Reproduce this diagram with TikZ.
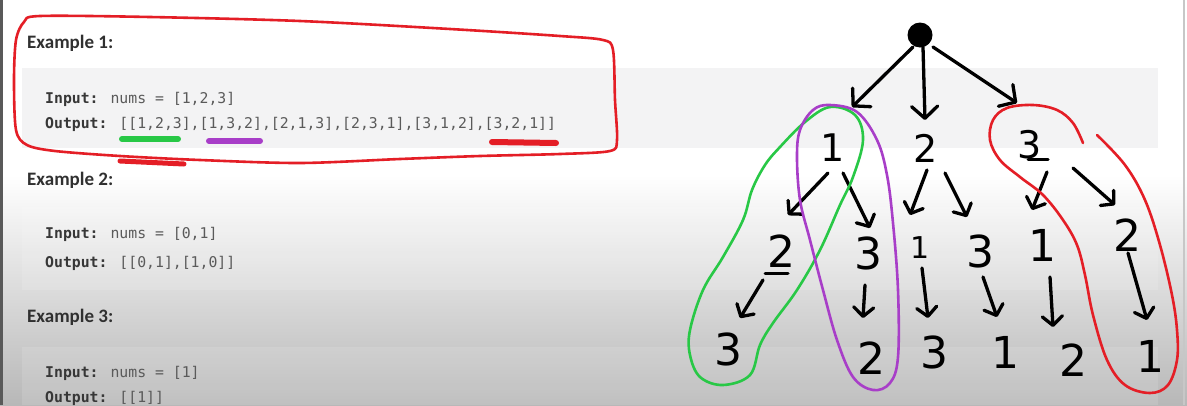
\documentclass[tikz,border=0pt]{standalone}
\usepackage{fontspec}
\usetikzlibrary{arrows.meta,calc}
\newfontfamily\headfont{Carlito}
\newfontfamily\codefont{DejaVu Sans Mono}
\newfontfamily\handfont{DejaVu Sans}
\definecolor{penred}{RGB}{228,30,38}
\definecolor{pengreen}{RGB}{40,200,70}
\definecolor{penpurple}{RGB}{168,62,200}
\definecolor{headgray}{RGB}{48,48,48}
\definecolor{codegray}{RGB}{90,90,90}
\definecolor{codebold}{RGB}{55,55,55}
\definecolor{blockgray}{RGB}{243,243,244}
\tikzset{
  head/.style={anchor=base west, inner sep=0pt, font=\headfont\bfseries\fontsize{19}{19}\selectfont, text=headgray},
  code/.style={anchor=base west, inner sep=0pt, font=\codefont\fontsize{14.8}{15}\selectfont, text=codegray},
  digL/.style={inner sep=0pt, font=\handfont\fontsize{38}{38}\selectfont},
  dig/.style={inner sep=0pt, font=\handfont\fontsize{44}{44}\selectfont},
  digT/.style={inner sep=0pt, font=\handfont\fontsize{30}{30}\selectfont},
  arrL/.style={line width=3.3pt, line cap=round, -{Straight Barb[length=12pt,width=26pt,round]}},
  arrS/.style={line width=3.3pt, line cap=round, -{Straight Barb[length=9pt,width=20pt,round]}},
  pen/.style={line width=2.6pt, line cap=round, line join=round},
  marker/.style={line width=6pt, line cap=round},
}
\newcommand{\lbl}[1]{{\color{codebold}\bfseries #1}}
\begin{document}
\begin{tikzpicture}[x=1pt,y=-1pt]
\useasboundingbox (0,0) rectangle (1187,405);
% background
\fill[white] (0,0) rectangle (1187,405);
\shade[top color=white, middle color=black!9, bottom color=black!28] (0,175) rectangle (1187,405);
\fill[blockgray] (22,68) rectangle (1158,148);
\fill[white, opacity=0.12] (22,207) rectangle (1158,290);
\fill[white, opacity=0.12] (22,347) rectangle (1158,405);
\fill[black!65] (0,0) rectangle (2.5,405);
\fill[black!22] (1183,0) rectangle (1185,405);

% left text
\node[head] (ex1) at (27,48) {Example 1:};
\node[code] (in1) at (45,103) {\lbl{Input:} nums = [1,2,3]};
\node[code] (out1) at (45,128) {\lbl{Output:} [[1,2,3],[1,3,2],[2,1,3],[2,3,1],[3,1,2],[3,2,1]]};
\node[head] (ex2) at (27,185) {Example 2:};
\node[code] (in2) at (45,238) {\lbl{Input:} nums = [0,1]};
\node[code] (out2) at (45,267) {\lbl{Output:} [[0,1],[1,0]]};
\node[head] (ex3) at (27,322) {Example 3:};
\node[code] (in3) at (45,377) {\lbl{Input:} nums = [1]};
\node[code] (out3) at (45,402) {\lbl{Output:} [[1]]};

% annotations on example 1
\draw[pen, penred] plot[smooth cycle, tension=0.5] coordinates {(40,16) (150,17) (300,21) (450,29) (560,36) (603,40) (613,50) (615,100) (617,140) (610,151) (560,154) (480,156) (400,159) (300,163) (200,160) (120,156) (55,151) (27,145) (16,130) (14,80) (16,40) (24,22)};
\draw[penred, line width=5pt, line cap=round] (120,161) -- (184,164);
\draw[marker, pengreen] (122,139) -- (178,139);
\draw[marker, penpurple] (209,141) -- (260,141);
\draw[marker, penred] (492,142) -- (556,143);

% tree nodes
\node[circle, fill=black, minimum size=25pt, inner sep=0pt] (root) at (920,35) {};
\node[digL] (n1) at (833,148) {1};
\node[digL] (n2) at (926,148) {2};
\node[digL] (n3) at (1030,145) {3};
\node[dig] (n12) at (781,251) {2};
\node[dig] (n13) at (868,253) {3};
\node[digT] (n21) at (920,248) {1};
\node[dig] (n23) at (980,251) {3};
\node[dig] (n31) at (1042,245) {1};
\node[dig] (n32) at (1127,235) {2};
\node[dig] (n123) at (728,349) {3};
\node[dig] (n132) at (871,358) {2};
\node[dig] (n213) at (934,352) {3};
\node[dig] (n231) at (1005,352) {1};
\node[dig] (n312) at (1073,360) {2};
\node[dig] (n321) at (1150,356) {1};

% underlines of hand digits
\draw[line width=3pt, line cap=round] ($(n3)+(-2,14)$) -- ($(n3)+(18,14)$);
\draw[line width=3pt, line cap=round] ($(n12)+(-16,22)$) -- ($(n12)+(7,22)$);

% connectors
\draw[arrL] ($(root)+(-7,12)$) -- ($(n1)+(19,-41)$);
\draw[arrL] ($(root)+(3,12)$) -- ($(n2)+(-1,-28)$);
\draw[arrL] ($(root)+(13,12)$) -- ($(n3)+(-13,-42)$);
\draw[arrS] ($(n1)+(-5,25)$) -- ($(n12)+(7,-36)$);
\draw[arrS] ($(n1)+(10,25)$) -- ($(n13)+(2,-25)$);
\draw[arrS] ($(n2)+(1,22)$) -- ($(n21)+(-10,-33)$);
\draw[arrS] ($(n2)+(19,25)$) -- ($(n23)+(-13,-34)$);
\draw[arrS] ($(n3)+(17,27)$) -- ($(n31)+(-10,-35)$);
\draw[arrS] ($(n3)+(43,23)$) -- ($(n32)+(-12,-30)$);
\draw[arrS] ($(n12)+(-18,29)$) -- ($(n123)+(12,-31)$);
\draw[arrS] ($(n13)+(-3,32)$) -- ($(n132)+(-8,-40)$);
\draw[arrS] ($(n21)+(2,20)$) -- ($(n213)+(-6,-34)$);
\draw[arrS] ($(n23)+(3,26)$) -- ($(n231)+(-8,-35)$);
\draw[arrS] ($(n31)+(8,32)$) -- ($(n312)+(-20,-33)$);
\draw[arrS] ($(n32)+(1,18)$) -- ($(n321)+(-3,-36)$);

% colored loops
\draw[pen, pengreen] plot[smooth cycle, tension=0.6] coordinates {(830,107) (855,115) (863,140) (853,177) (840,205) (820,250) (797,290) (773,323) (760,345) (750,375) (723,385) (700,377) (690,355) (690,330) (703,290) (723,257) (743,220) (752,190) (765,165) (780,147) (805,122)};
\draw[pen, penpurple] plot[smooth cycle, tension=0.6] coordinates {(830,105) (857,112) (877,140) (887,175) (893,223) (898,290) (898,357) (890,383) (873,390) (853,377) (837,340) (823,290) (810,240) (800,200) (797,157) (800,130) (813,110)};
\draw[pen, penred] plot[smooth, tension=0.6] coordinates {(1083,143) (1073,123) (1057,110) (1033,105) (1007,108) (993,120) (990,140) (1000,160) (1020,177) (1043,195) (1063,220) (1077,245) (1085,275) (1093,315) (1107,360) (1125,385) (1150,393) (1168,385) (1177,360) (1177,330) (1172,295) (1160,245) (1145,200) (1125,165) (1097,135)};
\end{tikzpicture}
\end{document}
